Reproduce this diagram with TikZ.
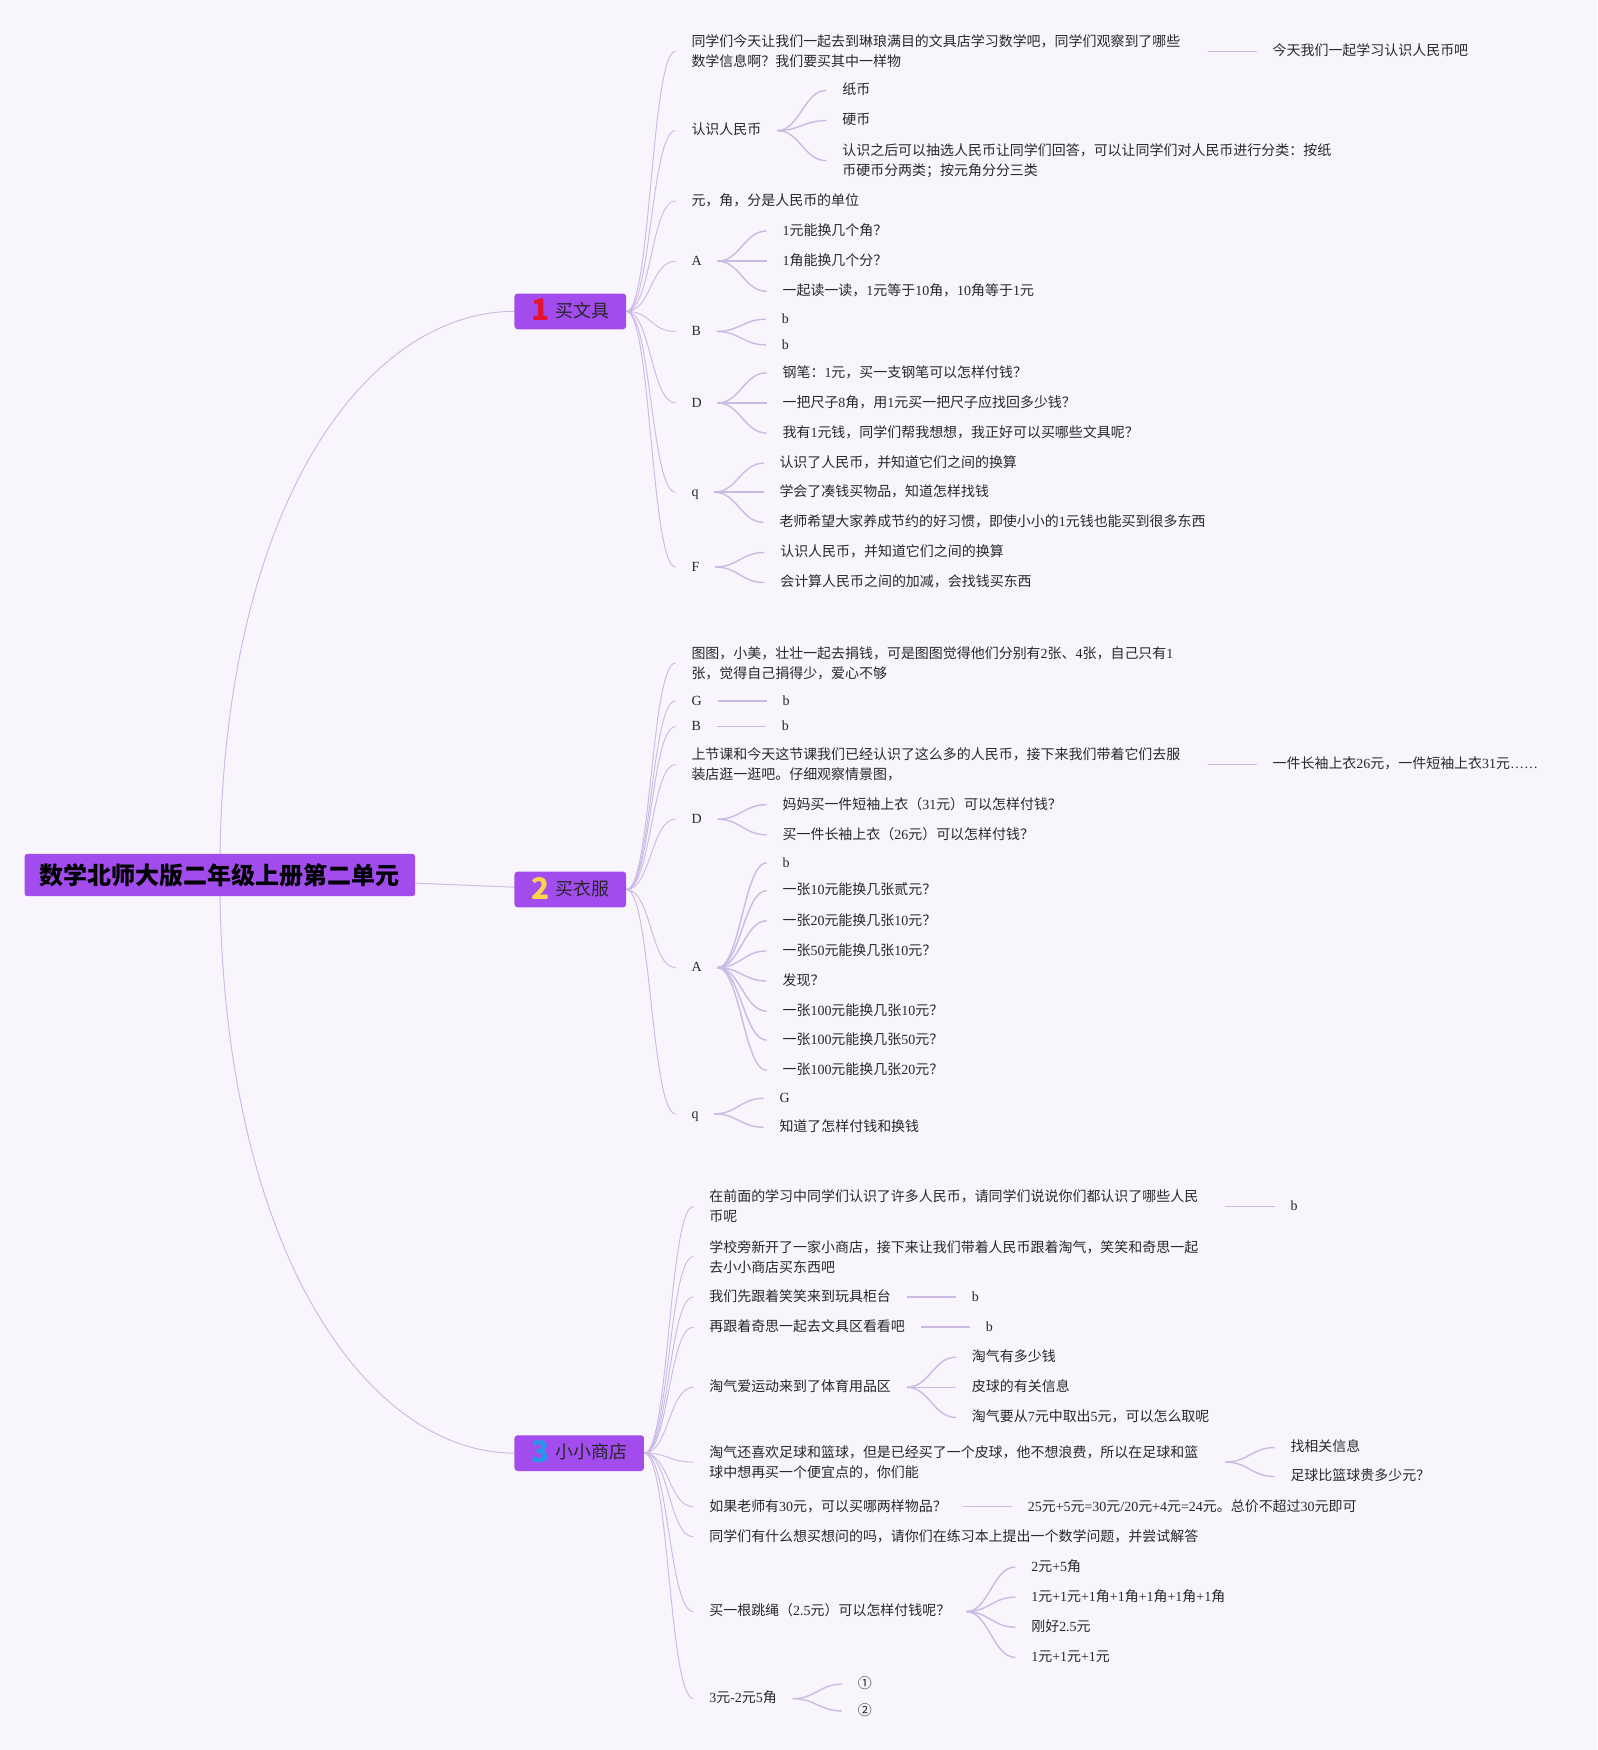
\documentclass[tikz,border=0pt]{standalone}
\usepackage{fontspec}
\setmainfont{Liberation Serif}
\newfontfamily\cjk{Noto Sans CJK SC}
\usetikzlibrary{positioning}
\XeTeXinterchartokenstate=1
\newXeTeXintercharclass\cjkcls
\newcount\cjkn
\newcommand\cjkrange[2]{\cjkn=#1\relax\loop\XeTeXcharclass\cjkn=\cjkcls\ifnum\cjkn<#2\advance\cjkn by 1\repeat}
\cjkrange{"2460}{"24FF}
\cjkrange{"3000}{"303F}
\cjkrange{"4E00}{"9FFF}
\cjkrange{"FF00}{"FFEF}
\XeTeXinterchartoks 0 \cjkcls = {\cjk}
\XeTeXinterchartoks 4095 \cjkcls = {\cjk}
\XeTeXinterchartoks \cjkcls 0 = {\rmfamily}
\XeTeXinterchartoks \cjkcls 4095 = {\rmfamily}
\definecolor{bgcol}{RGB}{248,245,252}
\definecolor{boxcol}{RGB}{162,76,238}
\definecolor{linkcol}{RGB}{203,186,228}
\definecolor{inkcol}{RGB}{40,40,40}
\definecolor{onecol}{RGB}{226,20,50}
\definecolor{twocol}{RGB}{248,214,72}
\definecolor{threecol}{RGB}{40,150,232}
\newcommand{\badge}[2]{\raisebox{-2.5pt}{\smash{\fontsize{19}{19}\selectfont\cjk\bfseries\color{#1}#2}}\hspace{4pt}}
\pgfdeclarelayer{paper}
\pgfdeclarelayer{edges}
\pgfsetlayers{paper,edges,main}
\begin{document}
\begin{tikzpicture}[x=0.025cm,y=0.025cm,node distance=1.1cm,
  rootbox/.style={fill=boxcol,rounded corners=2pt,minimum width=8.75cm,minimum height=0.95cm,inner sep=0pt,font=\fontsize{15.3}{18}\selectfont\bfseries,text=black},
  topicbox/.style={fill=boxcol,rounded corners=2pt,minimum height=0.8cm,inner sep=0pt,font=\fontsize{11.4}{14}\selectfont,text=black!85},
  leaf/.style={inner xsep=0.35cm,inner ysep=1pt,text height=7.2pt,text depth=1.7pt,font=\fontsize{8.9}{12.8}\selectfont,text=inkcol},
  para/.style={inner xsep=0.35cm,inner ysep=1pt,text width=11.2cm,align=left,font=\fontsize{8.9}{12.8}\selectfont,text=inkcol},
  lift/.style={yshift=#1*0.025cm},
  link/.style={draw=linkcol,line width=0.6pt},
  twig/.style={draw=linkcol,line width=0.9pt}]
\useasboundingbox (0,0) rectangle (1431,-1568);
\begin{pgfonlayer}{paper}
\fill[bgcol] (0,0) rectangle (1431,-1568);
\end{pgfonlayer}
\node[rootbox] (root) at (197,-784) {数学北师大版二年级上册第二单元};
\node[topicbox,minimum width=2.5cm] (br1) at (511,-279) {\badge{onecol}{1}买文具};
\node[topicbox,minimum width=2.5cm] (br2) at (511,-797) {\badge{twocol}{2}买衣服};
\node[topicbox,minimum width=2.9cm] (br3) at (519,-1302) {\badge{threecol}{3}小小商店};
\node[para,right=of br1,lift=233] (wj1) {同学们今天让我们一起去到琳琅满目的文具店学习数学吧，同学们观察到了哪些\\数学信息啊？我们要买其中一样物};
\node[leaf,right=of wj1] (wj1a) {今天我们一起学习认识人民币吧};
\node[leaf,right=of br1,lift=162] (wj2) {认识人民币};
\node[leaf,right=of wj2,lift=36] (wj2a) {纸币};
\node[leaf,right=of wj2,lift=9] (wj2b) {硬币};
\node[para,right=of wj2,lift=-27] (wj2c) {认识之后可以抽选人民币让同学们回答，可以让同学们对人民币进行分类：按纸\\币硬币分两类；按元角分分三类};
\node[leaf,right=of br1,lift=99] (wj3) {元，角，分是人民币的单位};
\node[leaf,right=of br1,lift=45] (wj4) {A};
\node[leaf,right=of wj4,lift=27] (wj4a) {1元能换几个角？};
\node[leaf,right=of wj4] (wj4b) {1角能换几个分？};
\node[leaf,right=of wj4,lift=-27] (wj4c) {一起读一读，1元等于10角，10角等于1元};
\node[leaf,right=of br1,lift=-18] (wj5) {B};
\node[leaf,right=of wj5,lift=11] (wj5a) {b};
\node[leaf,right=of wj5,lift=-12] (wj5b) {b};
\node[leaf,right=of br1,lift=-82] (wj6) {D};
\node[leaf,right=of wj6,lift=27] (wj6a) {钢笔：1元，买一支钢笔可以怎样付钱？};
\node[leaf,right=of wj6] (wj6b) {一把尺子8角，用1元买一把尺子应找回多少钱？};
\node[leaf,right=of wj6,lift=-27] (wj6c) {我有1元钱，同学们帮我想想，我正好可以买哪些文具呢？};
\node[leaf,right=of br1,lift=-162] (wj7) {q};
\node[leaf,right=of wj7,lift=26] (wj7a) {认识了人民币，并知道它们之间的换算};
\node[leaf,right=of wj7] (wj7b) {学会了凑钱买物品，知道怎样找钱};
\node[leaf,right=of wj7,lift=-27] (wj7c) {老师希望大家养成节约的好习惯，即使小小的1元钱也能买到很多东西};
\node[leaf,right=of br1,lift=-229] (wj8) {F};
\node[leaf,right=of wj8,lift=13] (wj8a) {认识人民币，并知道它们之间的换算};
\node[leaf,right=of wj8,lift=-14] (wj8b) {会计算人民币之间的加减，会找钱买东西};
\node[para,right=of br2,lift=203] (yf1) {图图，小美，壮壮一起去捐钱，可是图图觉得他们分别有2张、4张，自己只有1\\张，觉得自己捐得少，爱心不够};
\node[leaf,right=of br2,lift=169] (yf2) {G};
\node[leaf,right=of yf2] (yf2a) {b};
\node[leaf,right=of br2,lift=146] (yf3) {B};
\node[leaf,right=of yf3] (yf3a) {b};
\node[para,right=of br2,lift=112] (yf4) {上节课和今天这节课我们已经认识了这么多的人民币，接下来我们带着它们去服\\装店逛一逛吧。仔细观察情景图，};
\node[leaf,right=of yf4] (yf4a) {一件长袖上衣26元，一件短袖上衣31元……};
\node[leaf,right=of br2,lift=63] (yf5) {D};
\node[leaf,right=of yf5,lift=13] (yf5a) {妈妈买一件短袖上衣（31元）可以怎样付钱？};
\node[leaf,right=of yf5,lift=-14] (yf5b) {买一件长袖上衣（26元）可以怎样付钱？};
\node[leaf,right=of br2,lift=-70] (yf6) {A};
\node[leaf,right=of yf6,lift=94] (yf6a) {b};
\node[leaf,right=of yf6,lift=69] (yf6b) {一张10元能换几张贰元？};
\node[leaf,right=of yf6,lift=42] (yf6c) {一张20元能换几张10元？};
\node[leaf,right=of yf6,lift=15] (yf6d) {一张50元能换几张10元？};
\node[leaf,right=of yf6,lift=-12] (yf6e) {发现？};
\node[leaf,right=of yf6,lift=-39] (yf6f) {一张100元能换几张10元？};
\node[leaf,right=of yf6,lift=-65] (yf6g) {一张100元能换几张50元？};
\node[leaf,right=of yf6,lift=-92] (yf6h) {一张100元能换几张20元？};
\node[leaf,right=of br2,lift=-201] (yf7) {q};
\node[leaf,right=of yf7,lift=14] (yf7a) {G};
\node[leaf,right=of yf7,lift=-12] (yf7b) {知道了怎样付钱和换钱};
\node[para,right=of br3,lift=221] (sd1) {在前面的学习中同学们认识了许多人民币，请同学们说说你们都认识了哪些人民\\币呢};
\node[leaf,right=of sd1] (sd1a) {b};
\node[para,right=of br3,lift=176] (sd2) {学校旁新开了一家小商店，接下来让我们带着人民币跟着淘气，笑笑和奇思一起\\去小小商店买东西吧};
\node[leaf,right=of br3,lift=140] (sd3) {我们先跟着笑笑来到玩具柜台};
\node[leaf,right=of sd3] (sd3a) {b};
\node[leaf,right=of br3,lift=113] (sd4) {再跟着奇思一起去文具区看看吧};
\node[leaf,right=of sd4] (sd4a) {b};
\node[leaf,right=of br3,lift=59] (sd5) {淘气爱运动来到了体育用品区};
\node[leaf,right=of sd5,lift=27] (sd5a) {淘气有多少钱};
\node[leaf,right=of sd5] (sd5b) {皮球的有关信息};
\node[leaf,right=of sd5,lift=-27] (sd5c) {淘气要从7元中取出5元，可以怎么取呢};
\node[para,right=of br3,lift=-8] (sd6) {淘气还喜欢足球和篮球，但是已经买了一个皮球，他不想浪费，所以在足球和篮\\球中想再买一个便宜点的，你们能};
\node[leaf,right=of sd6,lift=13] (sd6a) {找相关信息};
\node[leaf,right=of sd6,lift=-13] (sd6b) {足球比篮球贵多少元？};
\node[leaf,right=of br3,lift=-48] (sd7) {如果老师有30元，可以买哪两样物品？};
\node[leaf,right=of sd7] (sd7a) {25元+5元=30元/20元+4元=24元。总价不超过30元即可};
\node[leaf,right=of br3,lift=-75] (sd8) {同学们有什么想买想问的吗，请你们在练习本上提出一个数学问题，并尝试解答};
\node[leaf,right=of br3,lift=-142] (sd9) {买一根跳绳（2.5元）可以怎样付钱呢？};
\node[leaf,right=of sd9,lift=40] (sd9a) {2元+5角};
\node[leaf,right=of sd9,lift=13] (sd9b) {1元+1元+1角+1角+1角+1角+1角};
\node[leaf,right=of sd9,lift=-14] (sd9c) {刚好2.5元};
\node[leaf,right=of sd9,lift=-41] (sd9d) {1元+1元+1元};
\node[leaf,right=of br3,lift=-220] (sd10) {3元-2元5角};
\node[leaf,right=of sd10,lift=13] (sd10a) {①};
\node[leaf,right=of sd10,lift=-11] (sd10b) {②};
\begin{pgfonlayer}{edges}
\draw[link] (root.center) .. controls +(0,334) and +(-131,0) .. (br1.west);
\draw[link] (root.center) -- (br2.center);
\draw[link] (root.center) .. controls +(0,-336) and +(-131,0) .. (br3.west);
\foreach \i in {1,...,8} \draw[link] (br1.east) .. controls +(22,0) and +(-22,0) .. (wj\i.west);
\foreach \i in {1,...,7} \draw[link] (br2.east) .. controls +(22,0) and +(-22,0) .. (yf\i.west);
\foreach \i in {1,...,10} \draw[link] (br3.east) .. controls +(22,0) and +(-22,0) .. (sd\i.west);
\foreach \s/\t in {wj1/wj1a,wj2/wj2a,wj2/wj2b,wj2/wj2c,wj4/wj4a,wj4/wj4b,wj4/wj4c,wj5/wj5a,wj5/wj5b,wj6/wj6a,wj6/wj6b,wj6/wj6c,wj7/wj7a,wj7/wj7b,wj7/wj7c,wj8/wj8a,wj8/wj8b,
  yf2/yf2a,yf3/yf3a,yf4/yf4a,yf5/yf5a,yf5/yf5b,yf6/yf6a,yf6/yf6b,yf6/yf6c,yf6/yf6d,yf6/yf6e,yf6/yf6f,yf6/yf6g,yf6/yf6h,yf7/yf7a,yf7/yf7b,
  sd1/sd1a,sd3/sd3a,sd4/sd4a,sd5/sd5a,sd5/sd5b,sd5/sd5c,sd6/sd6a,sd6/sd6b,sd7/sd7a,sd9/sd9a,sd9/sd9b,sd9/sd9c,sd9/sd9d,sd10/sd10a,sd10/sd10b}
  \draw[twig] (\s.east) .. controls +(20,0) and +(-20,0) .. (\t.west);
\end{pgfonlayer}
\end{tikzpicture}
\end{document}
